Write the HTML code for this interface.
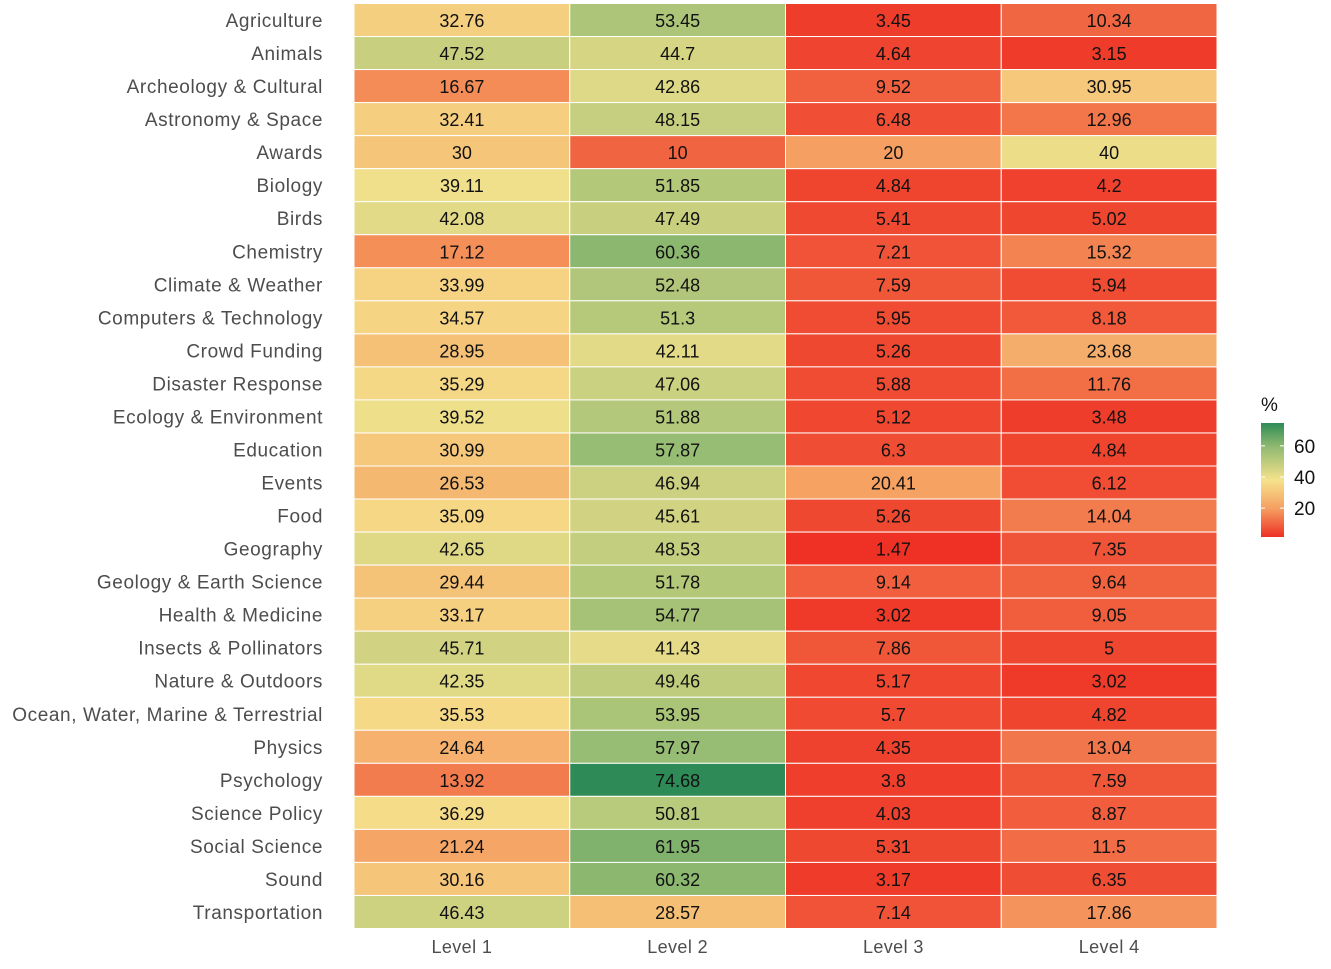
<!DOCTYPE html>
<html><head><meta charset="utf-8"><style>
body{margin:0;background:#fff;width:1331px;height:964px;overflow:hidden}
svg text{font-family:"Liberation Sans",sans-serif}
</style></head><body>
<svg id="chart" width="1331" height="964"></svg>
<script>
const categories=["Agriculture","Animals","Archeology & Cultural","Astronomy & Space","Awards","Biology","Birds","Chemistry","Climate & Weather","Computers & Technology","Crowd Funding","Disaster Response","Ecology & Environment","Education","Events","Food","Geography","Geology & Earth Science","Health & Medicine","Insects & Pollinators","Nature & Outdoors","Ocean, Water, Marine & Terrestrial","Physics","Psychology","Science Policy","Social Science","Sound","Transportation"];
const levels=["Level 1","Level 2","Level 3","Level 4"];
const level1=["32.76","47.52","16.67","32.41","30","39.11","42.08","17.12","33.99","34.57","28.95","35.29","39.52","30.99","26.53","35.09","42.65","29.44","33.17","45.71","42.35","35.53","24.64","13.92","36.29","21.24","30.16","46.43"];
const level2=["53.45","44.7","42.86","48.15","10","51.85","47.49","60.36","52.48","51.3","42.11","47.06","51.88","57.87","46.94","45.61","48.53","51.78","54.77","41.43","49.46","53.95","57.97","74.68","50.81","61.95","60.32","28.57"];
const level3=["3.45","4.64","9.52","6.48","20","4.84","5.41","7.21","7.59","5.95","5.26","5.88","5.12","6.3","20.41","5.26","1.47","9.14","3.02","7.86","5.17","5.7","4.35","3.8","4.03","5.31","3.17","7.14"];
const level4=["10.34","3.15","30.95","12.96","40","4.2","5.02","15.32","5.94","8.18","23.68","11.76","3.48","4.84","6.12","14.04","7.35","9.64","9.05","5","3.02","4.82","13.04","7.59","8.87","11.5","6.35","17.86"];
const legendTicks=[20,40,60];
const series=[level1,level2,level3,level4];
const NS="http://www.w3.org/2000/svg";
const svg=document.getElementById('chart');
const x0=354,x1=1217,y0=3.5,y1=928.5;
const cw=(x1-x0)/levels.length, rh=(y1-y0)/categories.length;
const xPos=i=>x0+i*cw, yPos=i=>y0+i*rh;
const vmin=1.47,vmax=74.68;
const stops=[[1.47,[238,49,36]],[20,[245,160,98]],[38,[245,226,140]],[60,[141,184,112]],[74.68,[46,139,87]]];
function color(v){for(let i=0;i<stops.length-1;i++){const a=stops[i],b=stops[i+1];if(v<=b[0]||i==stops.length-2){let t=Math.max(0,Math.min(1,(v-a[0])/(b[0]-a[0])));return 'rgb('+a[1].map((c,k)=>Math.round(c+(b[1][k]-c)*t)).join(',')+')';}}}
function el(tag,attrs,txt){const e=document.createElementNS(NS,tag);for(const k in attrs)e.setAttribute(k,attrs[k]);if(txt!=null)e.textContent=txt;svg.appendChild(e);return e;}
categories.forEach((c,r)=>{
  const t=el('text',{x:323,y:yPos(r)+rh/2+7,'text-anchor':'end','font-size':19,'letter-spacing':0.6,fill:'#4d4d4d'},c);
  
  
  series.forEach((s,ci)=>{
    const v=parseFloat(s[r]);
    const rect=el('rect',{x:xPos(ci),y:yPos(r),width:cw,height:rh,fill:color(v),stroke:'#fff','stroke-width':1});
    
    
    const tt=el('text',{x:xPos(ci)+cw/2,y:yPos(r)+rh/2+7,'text-anchor':'middle','font-size':18,fill:'#111'},s[r]);
    
    
  });
});
levels.forEach((l,i)=>{
  const t=el('text',{x:xPos(i)+cw/2,y:953,'text-anchor':'middle','font-size':18,'letter-spacing':0.4,fill:'#4d4d4d'},l);
  
  
});
const defs=el('defs',{});
const g=document.createElementNS(NS,'linearGradient');g.setAttribute('id','lg');g.setAttribute('x1','0');g.setAttribute('y1','1');g.setAttribute('x2','0');g.setAttribute('y2','0');
const ly0=423,ly1=537;
const lY=v=>ly1-(v-vmin)/(vmax-vmin)*(ly1-ly0);
stops.forEach(s=>{const st=document.createElementNS(NS,'stop');st.setAttribute('offset',(s[0]-vmin)/(vmax-vmin));st.setAttribute('stop-color','rgb('+s[1].join(',')+')');g.appendChild(st);});
defs.appendChild(g);
const lr=el('rect',{x:1261,y:ly0,width:23,height:ly1-ly0,fill:'url(#lg)'});


const lt=el('text',{x:1261,y:411,'font-size':19,fill:'#111'},'%');


legendTicks.forEach(v=>{
  el('line',{x1:1261,x2:1265,y1:lY(v),y2:lY(v),stroke:'#fff'});
  el('line',{x1:1280,x2:1284,y1:lY(v),y2:lY(v),stroke:'#fff'});
  const t=el('text',{x:1294,y:lY(v)+7,'font-size':19,fill:'#111'},String(v));
  
  
});
</script>
</body></html>
